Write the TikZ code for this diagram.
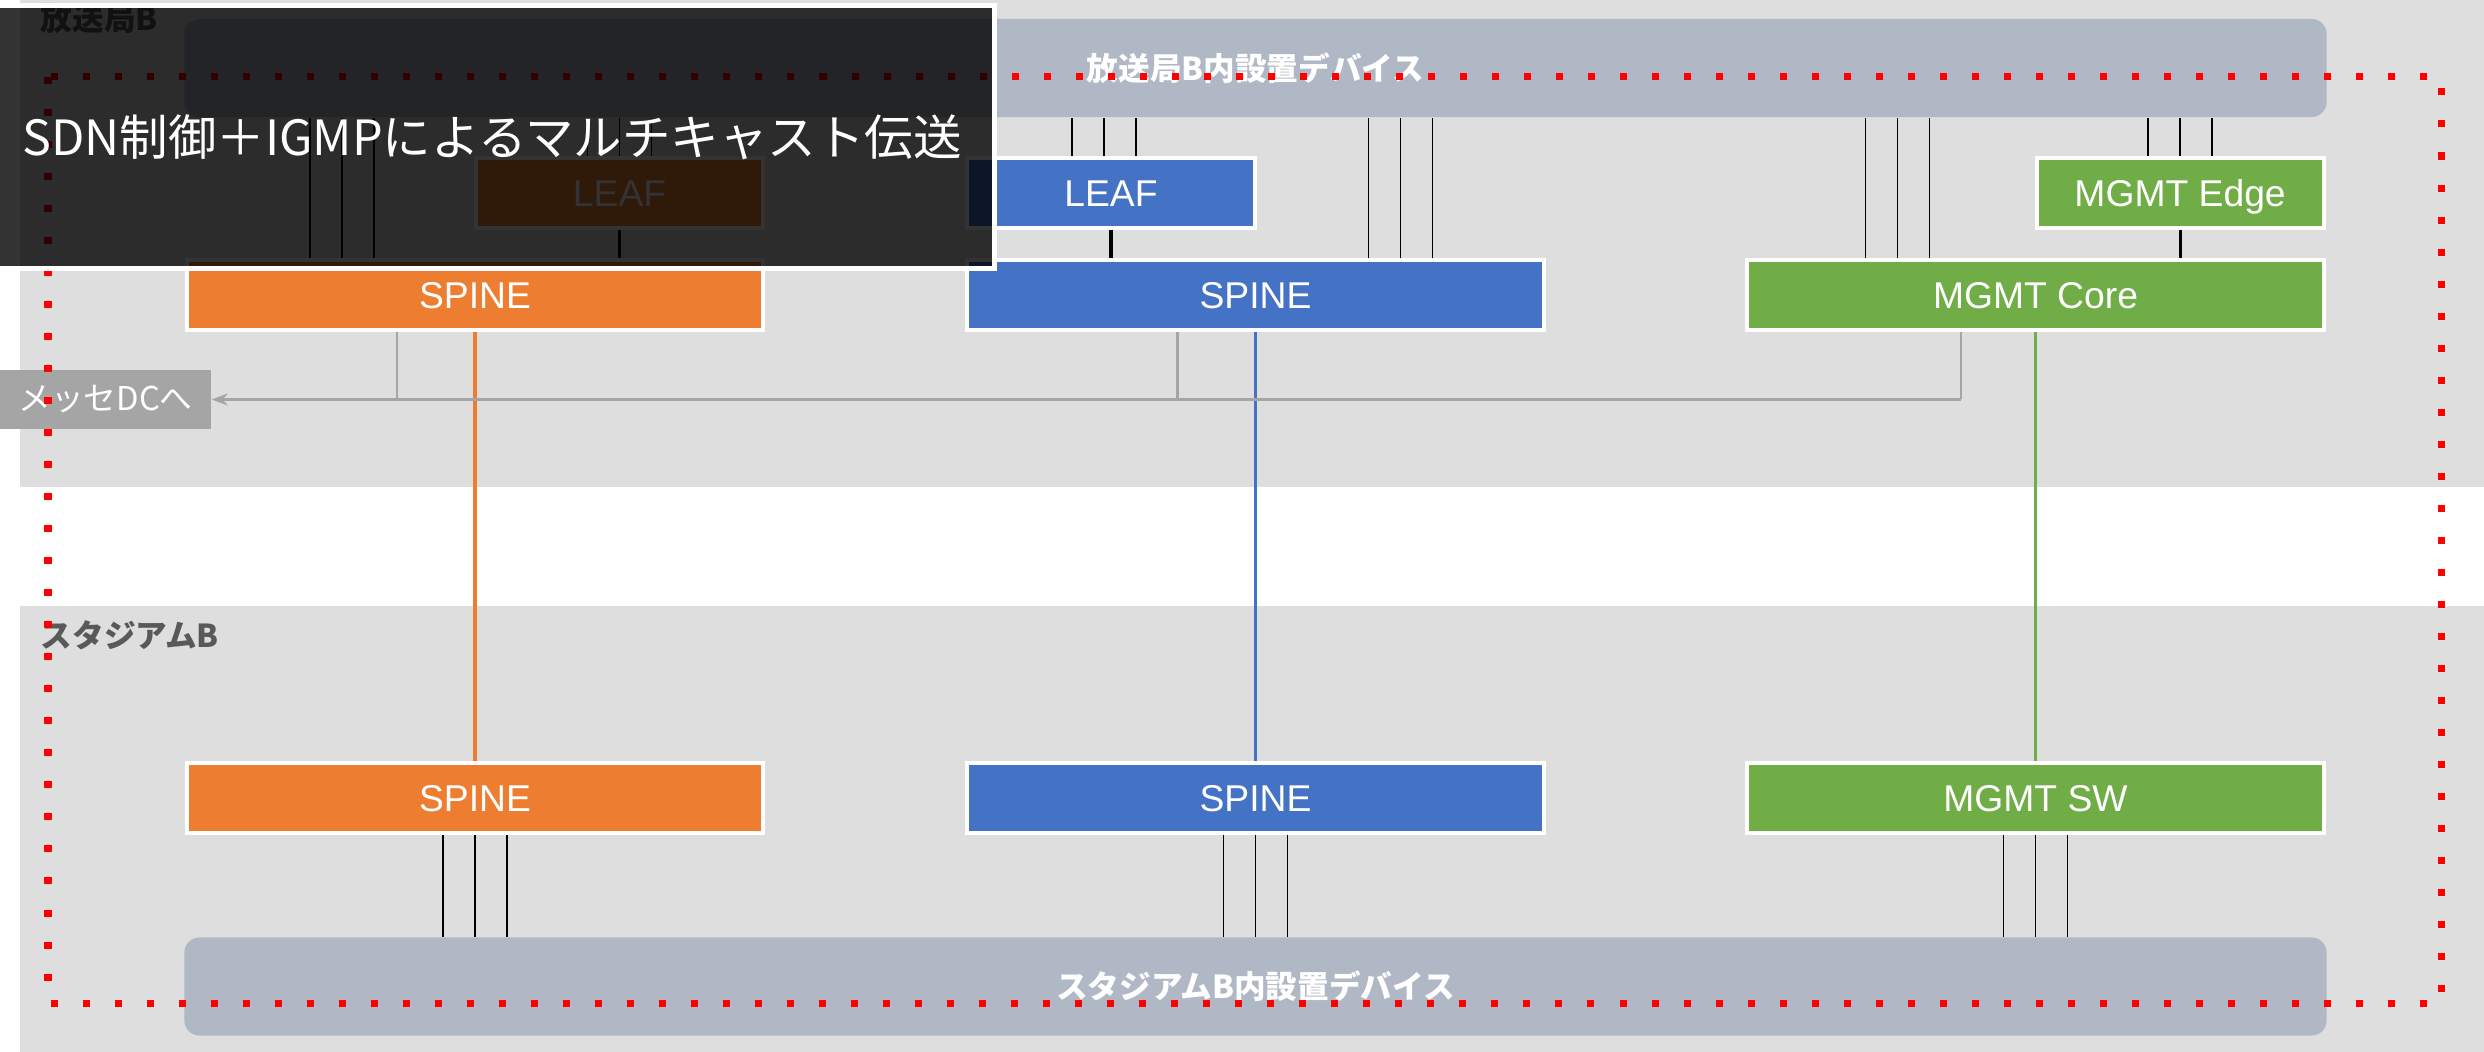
\documentclass[tikz,border=0pt]{standalone}
\usepackage{fontspec}
\setmainfont{Liberation Sans}
\newfontfamily\jp{Noto Sans CJK JP}
\usepackage{tikz}
\usetikzlibrary{arrows.meta}
\usetikzlibrary{positioning}

\definecolor{spineorange}{HTML}{ED7D31}
\definecolor{spineblue}{HTML}{4472C4}
\definecolor{mgmtgreen}{HTML}{70AD47}
\definecolor{bargray}{HTML}{AFB8C4}
\definecolor{regiongray}{HTML}{DEDEDE}
\definecolor{labelgray}{HTML}{595959}
\definecolor{dcgray}{HTML}{A5A5A5}

\begin{document}
\begin{tikzpicture}[x=0.01cm,y=-0.01cm,
      devbar/.style={fill=bargray, rounded corners=0.15cm, minimum width=21.41cm, minimum height=0.98cm,
        inner sep=0pt, text=white, font=\jp\bfseries\fontsize{9}{11}\selectfont},
      box/.style={draw=white, line width=0.04cm, text=white, inner sep=0pt, minimum height=0.70cm,
        text height=0.27cm, text depth=0pt, font=\fontsize{10.6}{12}\selectfont},
      spinebox/.style={box, minimum width=5.76cm},
      leafbox/.style={box, minimum width=2.87cm},
      regionlabel/.style={inner sep=0pt, text=labelgray, font=\jp\bfseries\fontsize{9}{11}\selectfont},
      dcbox/.style={fill=dcgray, inner sep=0pt, minimum width=2.11cm, minimum height=0.59cm,
        text=white, font=\jp\fontsize{9.3}{11}\selectfont},
      titlebox/.style={fill=black, fill opacity=0.8, text opacity=1, draw=white, line width=0.05cm,
        minimum width=10.04cm, minimum height=2.62cm, inner sep=0pt, text=white,
        font=\jp\fontsize{13.8}{16}\selectfont},
      link/.style={line width=0.5pt, black},
      uplink/.style={line width=0.9pt, black},
      trunk/.style={line width=1pt},
      dcline/.style={line width=0.6pt, dcgray},
      reddots/.style={red, line width=0.07cm, dash pattern=on 0.07cm off 0.25cm},
      ]
      \useasboundingbox (0,0) rectangle (2484,1052);
      \fill[white] (0,0) rectangle (2484,1052);
      \fill[regiongray] (20,-20) rectangle (2500,487);
      \fill[regiongray] (20,606) rectangle (2500,1070);
      \node[regionlabel, anchor=base west] (hq) at (40,31) {放送局B};
      \node[regionlabel, anchor=base west] (st) at (40,647) {スタジアムB};

      \node[devbar] (devtop) at (1255.5,68) {放送局B内設置デバイス};
      \node[devbar] (devbot) at (1255.5,986.5) {スタジアムB内設置デバイス};

      \node[spinebox, fill=spineorange] (sA) at (475,295) {SPINE};
      \node[spinebox, fill=spineblue] (sB) at (1255.5,295) {SPINE};
      \node[spinebox, fill=mgmtgreen] (sC) at (2035.5,295) {MGMT Core};
      \node[leafbox, fill=spineorange, above=0.28cm of sA.north east, anchor=south east] (lA) {LEAF};
      \node[leafbox, fill=spineblue, above=0.28cm of sB.north west, anchor=south west] (lB) {LEAF};
      \node[leafbox, fill=mgmtgreen, above=0.28cm of sC.north east, anchor=south east] (lC) {MGMT Edge};
      \node[spinebox, fill=spineorange, below=4.29cm of sA] (bA) {SPINE};
      \node[spinebox, fill=spineblue, below=4.29cm of sB] (bB) {SPINE};
      \node[spinebox, fill=mgmtgreen, below=4.29cm of sC] (bC) {MGMT SW};

      \foreach \n/\d in {sA/-1.33, sB/1.45, sC/-1.38, lA/0, lB/-0.07, lC/0}
        \foreach \k in {-0.32,0,0.32}
          \draw[link] ([xshift=\d cm, xshift=\k cm]\n.north) -- ([xshift=\d cm, xshift=\k cm]\n.north |- devtop.south);
      \foreach \n in {bA,bB,bC}
        \foreach \k in {-0.32,0,0.32}
          \draw[link] ([xshift=\k cm]\n.south) -- ([xshift=\k cm]\n.south |- devbot.north);
      \foreach \l/\s in {lA/sA, lB/sB, lC/sC}
        \draw[uplink] (\l.south) -- (\l.south |- \s.north);

      \draw[trunk, spineorange] (sA.south) -- (bA.north);
      \draw[trunk, spineblue] (sB.south) -- (bB.north);
      \draw[trunk, mgmtgreen] (sC.south) -- (bC.north);

      \node[dcbox] (dc) at (105.5,399.5) {メッセDCへ};
      \foreach \s/\d in {sA/-0.78, sB/-0.78, sC/-0.745}
        \draw[dcline] ([xshift=\d cm]\s.south) -- ([xshift=\d cm]\s.south |- dc.east);
      \draw[dcline, -{Stealth[length=0.16cm, width=0.12cm]}] ([xshift=-0.745cm]sC.south |- dc.east) -- (dc.east);

      \draw[reddots] (48,77) rectangle (2441,1003);

      \node[titlebox] (ttl) at (492,137) {SDN制御＋IGMPによるマルチキャスト伝送};
    \end{tikzpicture}
\end{document}
